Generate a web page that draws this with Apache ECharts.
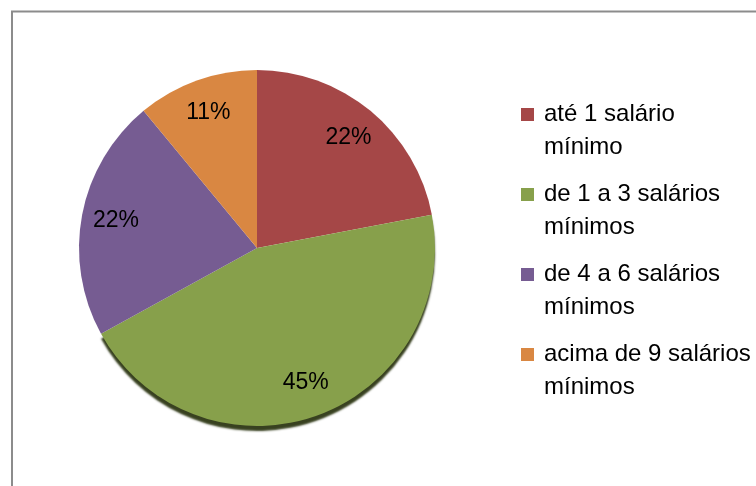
<!DOCTYPE html>
<html>
<head>
<meta charset="utf-8">
<script src="https://cdn.jsdelivr.net/npm/echarts@6/dist/echarts.min.js"></script>
<style>
  html, body { margin: 0; padding: 0; background: #fff; }
  #chart { width: 756px; height: 486px; }
</style>
</head>
<body>
<div id="chart"></div>
<script>
// Income brackets (first line / second line of the legend text)
const categories = [
  'até 1 salário mínimo',
  'de 1 a 3 salários mínimos',
  'de 4 a 6 salários mínimos',
  'acima de 9 salários mínimos'
];
const legendLines = [
  ['até 1 salário', 'mínimo'],
  ['de 1 a 3 salários', 'mínimos'],
  ['de 4 a 6 salários', 'mínimos'],
  ['acima de 9 salários', 'mínimos']
];
// Share of respondents, in percent
const shares = [22, 45, 22, 11];
const sliceColors = ['#A54747', '#87A04B', '#765C92', '#D98742'];

const FONT = '"Liberation Sans", Arial, sans-serif';
const center = [257, 248];
const R = 178;

const pieData = categories.map((name, i) => ({
  name,
  value: shares[i],
  itemStyle: i === 1
    ? { color: sliceColors[i], shadowColor: 'rgba(45,55,20,0.95)', shadowBlur: 2, shadowOffsetY: 5 }
    : { color: sliceColors[i] }
}));

const labelData = categories.map((name, i) => ({ name, value: shares[i] }));

const chart = echarts.init(document.getElementById('chart'), null, { renderer: 'canvas' });

chart.setOption({
  animation: false,
  backgroundColor: '#fff',
  graphic: [{
    type: 'rect',
    silent: true,
    shape: { x: 12, y: 11.5, width: 800, height: 600 },
    style: { fill: 'none', stroke: '#8c8c8c', lineWidth: 2 }
  }],
  legend: {
    orient: 'vertical',
    left: 521,
    top: 98,
    padding: 0,
    itemGap: 14,
    itemWidth: 18,
    itemHeight: 46,
    // square at the top-left of the icon box so it lines up with the first text line
    icon: 'path://M0 0H13V13H0Z M0 46L18 46',
    itemStyle: { borderWidth: 0 },
    data: categories,
    formatter: name => legendLines[categories.indexOf(name)].join('\n'),
    textStyle: {
      fontFamily: FONT,
      fontSize: 24,
      lineHeight: 33,
      color: '#000'
    },
    selectedMode: false
  },
  series: [
    {
      type: 'pie',
      center,
      radius: R,
      startAngle: 90,
      clockwise: true,
      silent: true,
      data: pieData,
      itemStyle: { borderWidth: 0 },
      label: { show: false },
      labelLine: { show: false }
    },
    {
      // transparent ring that only carries the percentage labels
      type: 'pie',
      center,
      radius: [R * 0.58, R],
      startAngle: 90,
      clockwise: true,
      silent: true,
      avoidLabelOverlap: false,
      data: labelData,
      itemStyle: { color: 'rgba(0,0,0,0)', borderWidth: 0 },
      label: {
        show: true,
        position: 'inside',
        formatter: '{c}%',
        fontFamily: FONT,
        fontSize: 23,
        color: '#000'
      },
      labelLine: { show: false }
    }
  ]
});
</script>
</body>
</html>
